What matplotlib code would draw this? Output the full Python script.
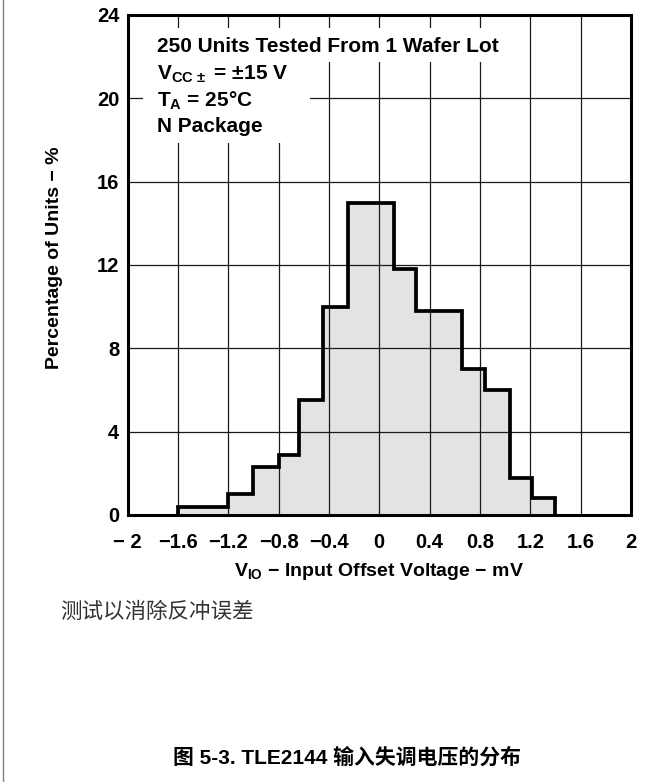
import matplotlib
matplotlib.use("Agg")
import matplotlib.pyplot as plt
from matplotlib.patches import Rectangle
from matplotlib.lines import Line2D

# ---- data ----
bin_edges = [-1.6, -1.2, -1.0, -0.8, -0.64, -0.45, -0.25, 0.12, 0.29, 0.66, 0.84, 1.04, 1.21, 1.40]
percent_units = [0.4, 1.0, 2.3, 2.9, 5.5, 10.0, 15.0, 11.8, 9.8, 7.0, 6.0, 1.8, 0.8]
x_ticks = [-2.0, -1.6, -1.2, -0.8, -0.4, 0.0, 0.4, 0.8, 1.2, 1.6, 2.0]
x_tick_labels = ["− 2", "−1.6", "−1.2", "−0.8", "−0.4", "0", "0.4", "0.8", "1.2", "1.6", "2"]
y_ticks = [0, 4, 8, 12, 16, 20, 24]
y_tick_labels = ["0", "4", "8", "12", "16", "20", "24"]
info_lines = [
    "250 Units Tested From 1 Wafer Lot",
    r"$\mathrm{V_{CC\,\pm}}$ = ±15 V",
    r"$\mathrm{T_A}$ = 25°C",
    "N Package",
]

plt.rcParams["font.family"] = ["Liberation Sans", "Noto Sans CJK SC", "DejaVu Sans"]
plt.rcParams["font.weight"] = "bold"
plt.rcParams["mathtext.fontset"] = "custom"
plt.rcParams["mathtext.rm"] = "Liberation Sans:bold"
plt.rcParams["mathtext.it"] = "Liberation Sans:bold"
plt.rcParams["mathtext.bf"] = "Liberation Sans:bold"

W, H = 662, 782
fig = plt.figure(figsize=(W / 100, H / 100), dpi=100)
fig.patch.set_facecolor("white")

L, R, T, B = 127.5, 631.0, 15.0, 515.0
ax = fig.add_axes([L / W, 1 - B / H, (R - L) / W, (B - T) / H])
ax.set_xlim(-2, 2)
ax.set_ylim(0, 24)

# histogram fill and outline
ax.stairs(percent_units, bin_edges, fill=True, color="#e3e3e3", linewidth=0, zorder=0.2)
ax.stairs(percent_units, bin_edges, baseline=0, color="black", linewidth=2.7, zorder=2,
          joinstyle="miter")

# grid
ax.set_axisbelow(True)
ax.grid(True, color="#1a1a1a", linewidth=0.9)

ax.set_xticks(x_ticks)
ax.set_xticklabels(x_tick_labels)
ax.set_yticks(y_ticks)
ax.set_yticklabels(y_tick_labels)
ax.tick_params(axis="x", length=0, pad=13, labelsize=14.5)
ax.tick_params(axis="y", length=0, pad=6, labelsize=14.5)

for s in ax.spines.values():
    s.set_linewidth(2.2)
    s.set_color("black")

# white backgrounds behind the annotation block
def px_to_data(px, py):
    x = -2 + (px - L) / (R - L) * 4
    y = 24 - (py - T) / (B - T) * 24
    return x, y

x0, y_top1 = px_to_data(143, 28)
x1, y_mid = px_to_data(512, 62)
x2, y_bot2 = px_to_data(310, 143)
ax.add_patch(Rectangle((x0, y_mid), x1 - x0, y_top1 - y_mid, facecolor="white",
                       edgecolor="none", zorder=0.8))
ax.add_patch(Rectangle((x0, y_bot2), x2 - x0, y_mid - y_bot2, facecolor="white",
                       edgecolor="none", zorder=0.8))

baselines_px = [52, 80, 107, 132]
for txt, bpx in zip(info_lines, baselines_px):
    tx, ty = px_to_data(157, bpx)
    ax.text(tx, ty, txt, fontsize=15, fontweight="bold", va="baseline", ha="left",
            zorder=3)

ax.set_xlabel(r"$\mathrm{V_{IO}}$ − Input Offset Voltage − mV", fontsize=14, fontweight="bold")
ax.xaxis.set_label_coords(0.5, (B - 561) / (B - T))
ax.set_ylabel("Percentage of Units − %", fontsize=14, fontweight="bold")
ax.yaxis.set_label_coords((63 - L) / (R - L), (B - 258) / (B - T))

fig.text(60 / W, 1 - 612 / H, "测试以消除反冲误差", fontsize=15.5, fontweight="normal",
         family=["Noto Sans CJK SC", "DejaVu Sans"], color="#333333", ha="left", va="center")
fig.text(347 / W, 1 - 758 / H, "图 5-3. TLE2144 输入失调电压的分布", fontsize=15,
         fontweight="bold", family=["Liberation Sans", "Noto Sans CJK SC"],
         ha="center", va="center", color="black")

fig.add_artist(Line2D([3 / W, 3 / W], [0, 1], transform=fig.transFigure,
                      color="#808080", linewidth=1.0))

fig.savefig("out.png", dpi=100)
